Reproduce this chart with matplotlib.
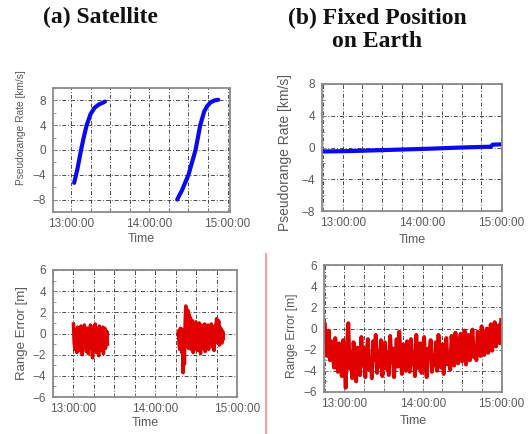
import numpy as np
import matplotlib
matplotlib.use("Agg")
import matplotlib.pyplot as plt
from matplotlib.ticker import MultipleLocator

# ---------------- data ----------------
time_tick_pos = [13.0, 14.0, 15.0]
time_tick_labels = ["13:00:00", "14:00:00", "15:00:00"]

# (a) satellite pseudorange rate [km/s] (time in hours)
sat_rate_t1 = [13.04, 13.083, 13.128, 13.167, 13.2, 13.25, 13.3, 13.35, 13.4, 13.433]
sat_rate_v1 = [-5.3, -3.0, 0.0, 2.3, 4.0, 5.8, 6.8, 7.3, 7.6, 7.8]
sat_rate_t2 = [14.355, 14.417, 14.5, 14.59, 14.65, 14.7, 14.74, 14.783, 14.833, 14.88]
sat_rate_v2 = [-8.0, -6.5, -4.0, 0.0, 4.0, 6.2, 7.1, 7.7, 8.0, 8.1]

# (b) fixed position pseudorange rate [km/s]
fix_rate_t = [12.75, 13.1, 13.6, 14.1, 14.5, 14.87, 14.89, 15.0]
fix_rate_v = [-0.5, -0.45, -0.3, -0.15, 0.0, 0.1, 0.35, 0.4]

# (a) satellite range error [m], two passes sampled every 0.5 min
sat_err_start1, sat_err_end1 = 13.0, 13.0 + 25 / 60
sat_err_v1 = [0.9, -0.8, -1.5, 0.3, -0.4, -1.8, 0.6, -1.1, 0.1, -1.6,
              -0.3, 0.7, -1.3, -2.0, 0.2, -0.6, 0.8, -1.2, -0.2, -1.7,
              0.5, -0.9, -1.9, 0.4, -0.5, 0.8, -1.4, -0.1, -2.3, 0.6,
              -0.7, -1.5, 0.9, -0.3, -1.8, 0.4, -1.0, -2.1, 0.7, -0.4,
              -1.6, 0.3, -1.2, 0.6, -1.9, -0.2, 0.5, -1.4, -0.6, 0.2, -1.0]
sat_err_start2, sat_err_end2 = 14.0 + 17 / 60, 14.0 + 50 / 60
sat_err_v2 = [0.2, -1.0, -1.5, 0.5, -0.6, -1.8, 0.4,
              -3.7, -0.5, -2.9, 1.0,
              2.6, 0.2, -1.0, 2.2, -1.4, 1.8,
              -0.8, 1.5, -1.5, 0.3, 1.2, -1.8, -0.4, 0.9, -1.2, 1.1,
              -0.3, -1.6, 0.7, -1.3, 1.0, -0.6, -1.9, 0.8, -1.4, 0.6,
              -1.0, 0.2, 0.9, -1.7, -0.3, 0.5, -1.2, 0.8, -1.5, 0.1,
              0.6, -1.1, 0.9, -0.5, -1.3, 0.4, -1.6, 0.7, -0.9, 0.8,
              1.4, -0.4, -0.9, 1.2, -1.1, 0.6, -0.7, 0.4, -0.9, 0.2, -0.5]

# (b) fixed position range error [m], sampled every minute 12:45 - 15:00
fix_err_start, fix_err_end = 12.75, 15.0
fix_err_v = [0.4, -1.5, -2.6, -0.2, -3.0, -1.2,
             -2.0, -3.7, -0.9, -2.5, -4.1, -1.4, -3.3, -4.5, -1.1, -2.9,
             -5.6, -1.6, 0.5, -3.8, -2.2, -4.7, -1.3, -3.1, -5.0, -1.8,
             -2.7, -4.4, -0.8, -3.5, -1.9, -4.6, -2.4, -1.0, -3.9, -2.8,
             -4.7, -1.2, -3.0, -0.6, -4.2, -2.1, -3.6, -1.1, -4.5, -2.6,
             -1.3, -3.8, -2.3, -4.4, -0.7, -3.2, -1.9, -4.6, -2.8, -1.0,
             -3.6, -0.3, -2.5, -4.3, -1.5, -3.0, -4.0, -1.2, -2.7, -4.1,
             -1.0, -3.4, -2.2, -4.5, -0.6, -2.9, -3.8, -1.4, -4.2, -2.4,
             -0.8, -3.7, -4.6, -1.9, -2.8, -1.1, -4.1, -2.5, -3.5, -1.3,
             -4.0, -0.6, -2.6, -3.7, -1.5, -4.3, -2.0, -0.9, -3.4, -2.4,
             -3.9, -0.7, -2.1, -3.5, -0.4, -2.8, -3.3, -1.2, -0.5, -3.1,
             -1.9, -0.2, -3.4, -2.4, -0.6, -3.0, -1.4, -0.1, -2.7, -1.8,
             -3.0, -0.3, -1.7, -2.6, 0.2, -1.2, -2.5, -0.4, 0.0, -2.3,
             -1.0, 0.4, -2.1, -0.5, 0.6, -1.7, -0.2, 0.3, -1.4, 0.8]

titles_left = "(a) Satellite"
titles_right = "(b) Fixed Position\non Earth"

# ---------------- style ----------------
BLUE = "#0a0af0"
RED = "#e00000"
SPINE = "#8a8a8a"
TXT = "#5a5a5a"
GRID = dict(color="#4a4a4a", linestyle=(0, (4, 2, 1, 2)), linewidth=0.7)

plt.rcParams["font.family"] = ["Liberation Sans", "DejaVu Sans"]

fig = plt.figure(figsize=(5.31, 4.34), dpi=100)
W, H = 531.0, 434.0


def axes_px(x0, x1, ytop, ybot):
    return fig.add_axes([x0 / W, (H - ybot) / H, (x1 - x0) / W, (ybot - ytop) / H])


def style(ax, xlim, ylim, ymajor, yminor, ylabel, ylabel_size, ylabel_xy, time_pad):
    ax.set_xlim(*xlim)
    ax.set_ylim(*ylim)
    ax.set_xticks(time_tick_pos)
    ax.set_xticklabels(time_tick_labels)
    ax.xaxis.set_minor_locator(MultipleLocator(0.25))
    ax.yaxis.set_major_locator(MultipleLocator(ymajor))
    ax.yaxis.set_minor_locator(MultipleLocator(yminor))
    ax.grid(True, which="both", axis="x", **GRID)
    ax.grid(True, which="major", axis="y", **GRID)
    ax.tick_params(which="both", direction="in", colors=SPINE, labelcolor=TXT,
                   labelsize=8.5, top=False, right=False)
    ax.tick_params(which="major", length=3)
    ax.tick_params(which="minor", length=2)
    ax.tick_params(axis="x", pad=4)
    ax.tick_params(axis="y", pad=5)
    for s in ax.spines.values():
        s.set_color(SPINE)
        s.set_linewidth(1.3)
    ax.set_xlabel("Time", fontsize=9, color=TXT, labelpad=time_pad)
    ax.set_ylabel(ylabel, fontsize=ylabel_size, color=TXT)
    ax.yaxis.set_label_coords(*ylabel_xy)
    ax.set_axisbelow(True)


# top-left
ax1 = axes_px(53, 230, 88, 212)
ax1.plot(sat_rate_t1, sat_rate_v1, color=BLUE, lw=3, solid_capstyle="round")
ax1.plot(sat_rate_t2, sat_rate_v2, color=BLUE, lw=3, solid_capstyle="round")
style(ax1, (12.77, 15.03), (-10, 10), 4, 2, "Pseudorange Rate [km/s]", 7.3,
      (-0.15, 0.68), 2.5)

# top-right
ax2 = axes_px(322, 502, 84, 211)
ax2.plot(fix_rate_t, fix_rate_v, color=BLUE, lw=3, solid_capstyle="round")
style(ax2, (12.74, 15.01), (-8, 8), 4, 2, "Pseudorange Rate [km/s]", 10,
      (-0.165, 0.46), 4)

# bottom-left
ax3 = axes_px(53, 237, 270, 397)
t31 = np.linspace(sat_err_start1, sat_err_end1, len(sat_err_v1))
t32 = np.linspace(sat_err_start2, sat_err_end2, len(sat_err_v2))
ax3.plot(t31, sat_err_v1, color=RED, lw=2.5)
ax3.plot(t32, sat_err_v2, color=RED, lw=2.5)
style(ax3, (12.75, 14.97), (-6, 6), 2, 1, "Range Error [m]", 9.5,
      (-0.135, 0.5), 2)

# bottom-right
ax4 = axes_px(324, 502, 265, 392)
t4 = np.linspace(fix_err_start, fix_err_end, len(fix_err_v))
ax4.plot(t4, fix_err_v, color=RED, lw=2.8)
style(ax4, (12.74, 15.01), (-6, 6), 2, 1, "Range Error [m]", 8.6,
      (-0.145, 0.44), 4)

# titles
fig.text(100 / W, 1 - 17 / H, titles_left, ha="center", va="center",
         fontsize=17, fontweight="bold", family="Liberation Serif", color="#111111")
fig.text(377 / W, 1 - 30 / H, titles_right, ha="center", va="center",
         fontsize=17, fontweight="bold", family="Liberation Serif", color="#111111",
         linespacing=1.1)

# separator line
fig.add_artist(plt.Line2D([266 / W, 266 / W], [0, 1 - 254 / H],
                          transform=fig.transFigure, color="#ff9a9a", lw=1.4))

fig.savefig("out.png", dpi=100)
